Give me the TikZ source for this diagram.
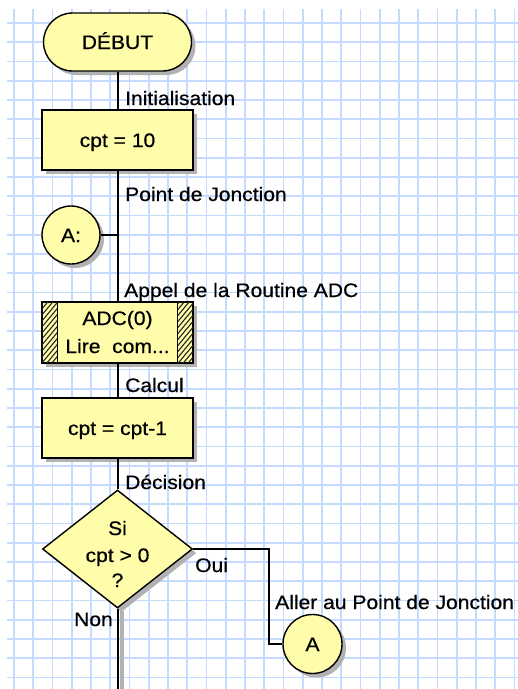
\documentclass[tikz,border=0pt]{standalone}
\usepackage{fontspec}
\setmainfont[FakeStretch=1.08,FakeBold=0.6]{Liberation Sans}
\usetikzlibrary{shapes.geometric,shapes.misc,shadows,calc}
\definecolor{gridblue}{RGB}{196,218,255}
\definecolor{boxyellow}{RGB}{255,252,170}
\definecolor{shadowgray}{RGB}{178,178,178}
\begin{document}
\begin{tikzpicture}[x=1pt,y=-1pt,
  font=\fontsize{19.5}{24}\selectfont,
  gridline/.style={gridblue, line width=1.6pt},
  fc/.style={draw=black, line width=1.4pt, fill=boxyellow, inner sep=0pt,
    text height=14pt, text depth=0pt,
    drop shadow={shadow xshift=4pt,shadow yshift=-4pt,fill=shadowgray,opacity=1}},
  procbox/.style={fc, rectangle, minimum width=151pt, minimum height=60pt},
  lbl/.style={inner sep=0pt, anchor=base west},
  ctext/.style={inner sep=0pt, anchor=base},
  wire/.style={line width=2pt, black},
  hatch/.style={line width=1.1pt, black!85}]
\useasboundingbox (0,0) rectangle (518,689);
\fill[white] (0,0) rectangle (518,689);
\begin{scope}
  \clip (7,9) rectangle (518,689);
  \foreach \k in {0,...,26} \draw[gridline] ({14+19.25*\k},9) -- ({14+19.25*\k},689);
  \foreach \k in {0,...,34} \draw[gridline] (7,{23+19.25*\k}) -- (518,{23+19.25*\k});
\end{scope}

% shapes
\node[fc, rounded rectangle, minimum width=148pt, minimum height=58pt] (debut) at (117.5,42) {DÉBUT};
\node[procbox] (init) at (117.5,140) {cpt = 10};
\node[fc, circle, minimum size=58pt] (ja) at (71,235) {A:};
\node[procbox, minimum height=61pt] (adc) at (117.5,332.5) {};
\begin{scope}
  \clip (adc.north west) rectangle ($(adc.south west)+(16,0)$);
  \foreach \k in {-3,...,13} \draw[hatch] ($(adc.south west)+(0,-6*\k)$) -- ++(30,-36);
\end{scope}
\begin{scope}
  \clip ($(adc.north east)+(-16,0)$) rectangle (adc.south east);
  \foreach \k in {-3,...,13} \draw[hatch] ($(adc.south east)+(-16,-6*\k)$) -- ++(30,-36);
\end{scope}
\draw[line width=1.4pt] ($(adc.north west)+(16,0)$) -- ($(adc.south west)+(16,0)$);
\draw[line width=1.4pt] ($(adc.north east)+(-16,0)$) -- ($(adc.south east)+(-16,0)$);
\draw[line width=1.4pt] (adc.north west) rectangle (adc.south east);
\node[ctext] (adct1) at (117.5,325) {ADC(0)};
\node[ctext] (adct2) at (117.5,353) {Lire\ \ com...};
\node[procbox] (calc) at (117.5,428) {cpt = cpt-1};
\node[fc, diamond, minimum width=150pt, minimum height=118pt] (dec) at (117.5,549) {};
\node[ctext] (dect1) at (117.5,535) {Si};
\node[ctext] (dect2) at (117.5,562) {cpt > 0};
\node[ctext] (dect3) at (117.5,587) {?};
\node[fc, circle, minimum size=59pt] (ga) at (312.5,644) {A};

% connectors
\coordinate (bend) at (269,549);
\coordinate (bot) at (117.5,689);
\draw[wire] (debut.south) -- (init.north);
\draw[wire] (init.south) -- (adc.north);
\draw[wire] (ja.east) -- (ja.east -| init.south);
\draw[wire] (adc.south) -- (calc.north);
\draw[wire] (calc.south) -- (dec.north);
\draw[wire] (dec.east) -| (ga.west -| bend) -- (ga.west);
\draw[shadowgray, line width=4pt] ($(dec.south)+(4,2)$) -- ($(bot)+(4,0)$);
\draw[wire] (dec.south) -- (bot);

% labels
\node[lbl] (l1) at (125,105) {Initialisation};
\node[lbl] (l2) at (125,201) {Point de Jonction};
\node[lbl] (l3) at (124,297) {Appel de la Routine ADC};
\node[lbl] (l4) at (125,392) {Calcul};
\node[lbl] (l5) at (125,489) {Décision};
\node[lbl] (l6) at (195,572) {Oui};
\node[lbl] (l7) at (275,609) {Aller au Point de Jonction};
\node[lbl, anchor=base east] (l8) at (113,626) {Non};
\end{tikzpicture}
\end{document}
